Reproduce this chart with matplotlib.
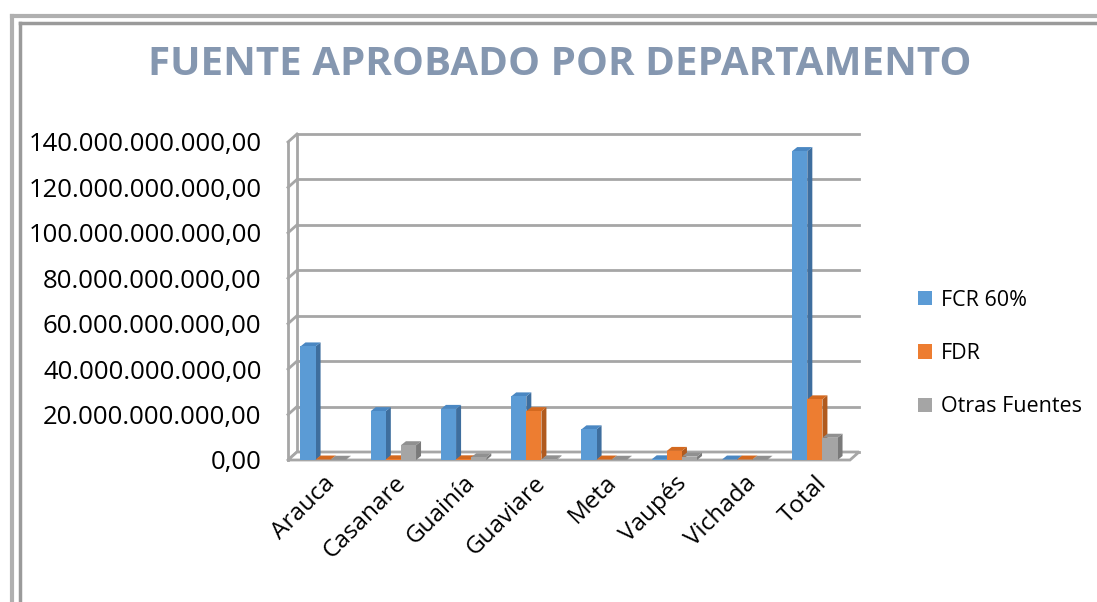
import matplotlib
matplotlib.use("Agg")
from matplotlib import pyplot as plt
from matplotlib.patches import Polygon
from matplotlib.lines import Line2D
import numpy as np

departamentos = ["Arauca", "Casanare", "Guainía", "Guaviare", "Meta", "Vaupés", "Vichada", "Total"]
series_names = ["FCR 60%", "FDR", "Otras Fuentes"]
# valores en miles de millones de pesos
fcr_60 = [50.0, 21.5, 22.5, 28.0, 13.5, 0.3, 0.2, 136.0]
fdr = [0.2, 0.3, 0.3, 21.5, 0.2, 4.0, 0.2, 26.7]
otras = [0.1, 6.5, 1.2, 0.3, 0.1, 1.5, 0.1, 9.8]
y_ticks = [0, 20, 40, 60, 80, 100, 120, 140]

front_colors = ["#5B9BD5", "#ED7D31", "#A5A5A5"]
side_colors = ["#3E6E9E", "#B05A1E", "#7A7A7A"]
top_colors = ["#4A87C2", "#D4691F", "#909090"]
grid_color = "#A6A6A6"


def fmt_pesos(v):
    s = f"{v * 1e9:,.2f}"
    return s.replace(",", "X").replace(".", ",").replace("X", ".")


plt.rcParams["font.family"] = ["Open Sans", "DejaVu Sans"]

fig = plt.figure(figsize=(10.97, 6.02), dpi=100)
fig.patch.set_facecolor("white")

# double gray frame around the chart area
for x, y, lw, c in [(12, 16, 3.0, "#B0B0B0"), (20, 23, 2.5, "#9A9A9A")]:
    fig.add_artist(Line2D([x / 1097, x / 1097], [0, 1 - y / 602], color=c, lw=lw))
    fig.add_artist(Line2D([x / 1097, 1], [1 - y / 602, 1 - y / 602], color=c, lw=lw))

fig.text(0.510, 0.893, "FUENTE APROBADO POR DEPARTAMENTO", ha="center", va="center",
         fontsize=29, fontweight="bold", color="#8597B0")

ax = fig.add_axes([288 / 1097, 1 - 460 / 602, (850 - 288) / 1097, (460 - 142) / 602])
ax.set_xlim(-0.5, 7.5)
ax.set_ylim(0, 140)
for sp in ax.spines.values():
    sp.set_visible(False)

# depth of the back wall and of the bars in data units
px_x = (850 - 288) / 8.0
px_y = (460 - 142) / 140.0
dxw, dyw = 9 / px_x, 8 / px_y
dxb, dyb = 5 / px_x, 4 / px_y

x0, x1 = -0.5, 7.5
# left wall, back wall grid and floor
ax.plot([x0, x0], [0, 140], color=grid_color, lw=2, clip_on=False, zorder=1)
ax.plot([x0 + dxw, x0 + dxw], [dyw, 140 + dyw], color=grid_color, lw=2, clip_on=False, zorder=1)
for t in y_ticks:
    ax.plot([x0, x0 + dxw], [t, t + dyw], color=grid_color, lw=2, clip_on=False, zorder=1)
    ax.plot([x0 + dxw, x1 + dxw], [t + dyw, t + dyw], color=grid_color, lw=2,
            clip_on=False, zorder=1)
ax.add_patch(Polygon([(x0, 0), (x1, 0), (x1 + dxw, dyw), (x0 + dxw, dyw)], closed=True,
                     facecolor="white", edgecolor=grid_color, lw=2, clip_on=False, zorder=1.5))

x = np.arange(len(departamentos))
w = 0.215
for k, vals in enumerate([fcr_60, fdr, otras]):
    xs = x + (k - 1) * w
    for xi, h in zip(xs, vals):
        left, right = xi - w / 2, xi + w / 2
        ax.add_patch(Polygon([(right, 0), (right + dxb, dyb), (right + dxb, h + dyb), (right, h)],
                             closed=True, facecolor=side_colors[k], edgecolor="none",
                             clip_on=False, zorder=2 + k))
        ax.add_patch(Polygon([(left, h), (left + dxb, h + dyb), (right + dxb, h + dyb), (right, h)],
                             closed=True, facecolor=top_colors[k], edgecolor="none",
                             clip_on=False, zorder=2 + k))
    ax.bar(xs, vals, width=w, color=front_colors[k], label=series_names[k],
           zorder=2 + k, clip_on=False)

ax.set_yticks(y_ticks)
ax.set_yticklabels([fmt_pesos(t) for t in y_ticks], fontsize=18.5)
ax.set_xticks(x)
ax.set_xticklabels(departamentos, rotation=45, ha="right", rotation_mode="anchor", fontsize=17.5)
ax.tick_params(axis="y", length=0, pad=19)
ax.tick_params(axis="x", length=0, pad=8)

ax.legend(loc="center left", bbox_to_anchor=(1.094, 0.335), frameon=False, fontsize=15.5,
          handlelength=0.65, handleheight=0.65, handletextpad=0.4, labelspacing=1.5,
          borderaxespad=0.3)

fig.savefig("out.png", dpi=100)
